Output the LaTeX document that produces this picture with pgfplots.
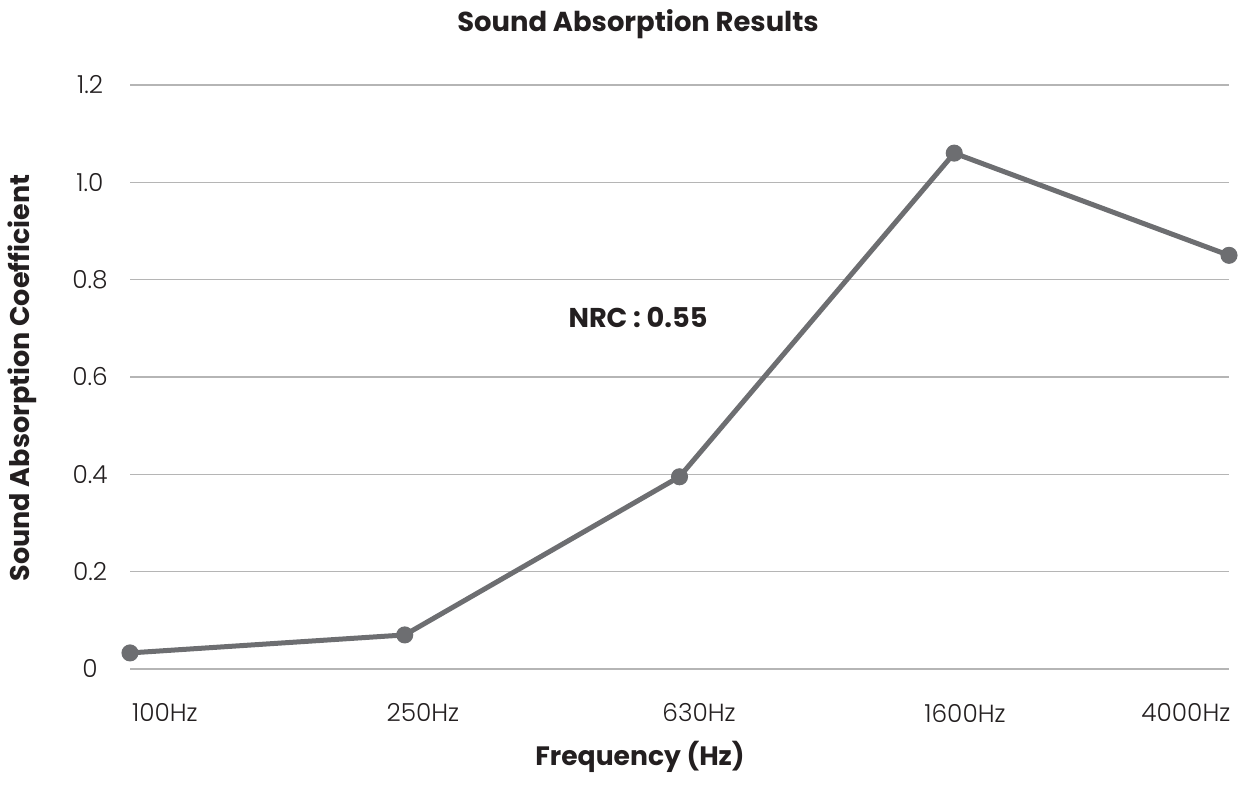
\documentclass[border=0pt]{standalone}
\usepackage{fontspec}
\setmainfont{Poppins}
\newfontfamily\lightfont{Poppins Light}
\usepackage{pgfplots}
\pgfplotsset{compat=1.18}
\definecolor{linegray}{HTML}{6D6E71}
\definecolor{gridgray}{HTML}{B5B5B5}
\definecolor{txt}{HTML}{231F20}
\begin{document}
\begin{tikzpicture}[x=1pt,y=1pt]
\useasboundingbox (0,0) rectangle (620.5,400.5);
\begin{axis}[
  at={(65pt,66pt)}, anchor=south west,
  scale only axis, width=549.5pt, height=292pt,
  xmin=0, xmax=4, ymin=0, ymax=1.2,
  axis line style={draw=none},
  ymajorgrids, xmajorgrids=false, grid style={gridgray, line width=0.6pt},
  ytick={0,0.2,0.4,0.6,0.8,1.0,1.2},
  yticklabels={0,0.2,0.4,0.6,0.8,1.0,1.2},
  xtick={0.127,1.066,2.071,3.039,3.843},
  xticklabels={100Hz,250Hz,630Hz,1600Hz,4000Hz},
  major tick length=0pt,
  tick style={draw=none},
  tick label style={font=\lightfont\fontsize{12.4pt}{14pt}\selectfont, text=txt},
  yticklabel style={anchor=center, xshift=-20pt},
  xticklabel style={anchor=center, yshift=-22pt},
  clip=false,
]
\addplot[linegray, line width=2.5pt, mark=*, mark size=3pt, mark options={fill=linegray, draw=linegray}]
  coordinates {(0,0.033) (1,0.070) (2,0.395) (3,1.060) (4,0.850)};
\node[font=\bfseries\fontsize{13.6pt}{15pt}\selectfont, text=txt] at (axis cs:1.849,0.723) {NRC : 0.55};
\end{axis}
\node[font=\bfseries\fontsize{13.7pt}{15pt}\selectfont, text=txt] at (319,388.5) {Sound Absorption Results};
\node[font=\bfseries\fontsize{13.3pt}{15pt}\selectfont, text=txt] at (320,22) {Frequency (Hz)};
\node[font=\bfseries\fontsize{13.5pt}{15pt}\selectfont, text=txt, rotate=90] at (11,211.5) {Sound Absorption Coefficient};
\end{tikzpicture}
\end{document}
